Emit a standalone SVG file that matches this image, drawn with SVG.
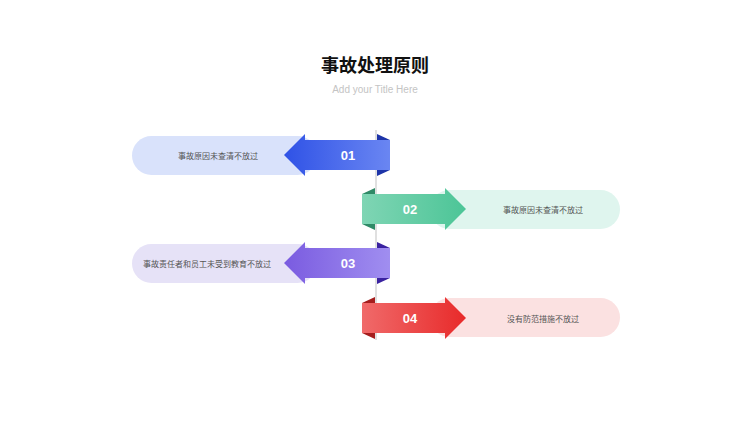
<svg xmlns="http://www.w3.org/2000/svg" width="750" height="422" viewBox="0 0 750 422">
<style>
.t{font-family:"Noto Sans CJK SC","Liberation Sans",sans-serif;font-size:8px;fill:#555;text-anchor:middle;dominant-baseline:central}
.n{font-family:"Liberation Sans",sans-serif;font-size:13px;font-weight:bold;fill:#fff;text-anchor:middle;dominant-baseline:central}
</style>
<defs>
<linearGradient id="gb" x1="0" x2="1"><stop offset="0" stop-color="#2f52e6"/><stop offset="1" stop-color="#6a86f2"/></linearGradient>
<linearGradient id="gg" x1="0" x2="1"><stop offset="0" stop-color="#7fd5b4"/><stop offset="1" stop-color="#4cc597"/></linearGradient>
<linearGradient id="gp" x1="0" x2="1"><stop offset="0" stop-color="#7a5be0"/><stop offset="1" stop-color="#a08ef0"/></linearGradient>
<linearGradient id="gr" x1="0" x2="1"><stop offset="0" stop-color="#f06a6a"/><stop offset="1" stop-color="#e82a2a"/></linearGradient>
</defs>
<rect width="750" height="422" fill="#fff"/>
<text x="375" y="72" font-family="Noto Sans CJK SC,sans-serif" font-size="18" font-weight="bold" text-anchor="middle" fill="#111">事故处理原则</text>
<text x="375" y="93" font-family="Liberation Sans,sans-serif" font-size="10" text-anchor="middle" fill="#c4c4c4">Add your Title Here</text>
<g id="connectors"><line x1="376" y1="130" x2="376" y2="340" stroke="#ccc" stroke-width="1.2"/></g>
<g id="n1">
<rect x="132" y="136" width="185" height="39" rx="19.5" fill="#d9e2fb"/>
<polygon points="284,155 305,134 305,140 390,140 390,170 305,170 305,176" fill="url(#gb)"/>
<polygon points="377,134 390,140 377,140" fill="#1d34a8"/><polygon points="377,176 390,170 377,170" fill="#1d34a8"/>
<text class="n" x="348" y="155">01</text><text class="t" x="218" y="155">事故原因未查清不放过</text>
</g>
<g id="n2">
<rect x="430" y="190" width="190" height="39" rx="19.5" fill="#dff5ee"/>
<polygon points="466,209 445,188 445,194 362,194 362,224 445,224 445,230" fill="url(#gg)"/>
<polygon points="375,188 362,194 375,194" fill="#2f8a67"/><polygon points="375,230 362,224 375,224" fill="#2f8a67"/>
<text class="n" x="410" y="209">02</text><text class="t" x="543" y="209">事故原因未查清不放过</text>
</g>
<g id="n3">
<rect x="132" y="244" width="185" height="39" rx="19.5" fill="#e6e2f7"/>
<polygon points="284,263 305,242 305,248 390,248 390,278 305,278 305,284" fill="url(#gp)"/>
<polygon points="377,242 390,248 377,248" fill="#3a22a0"/><polygon points="377,284 390,278 377,278" fill="#3a22a0"/>
<text class="n" x="348" y="263">03</text><text class="t" x="207" y="263">事故责任者和员工未受到教育不放过</text>
</g>
<g id="n4">
<rect x="430" y="298" width="190" height="39" rx="19.5" fill="#fbe1e1"/>
<polygon points="466,318 445,297 445,303 362,303 362,333 445,333 445,339" fill="url(#gr)"/>
<polygon points="375,297 362,303 375,303" fill="#a51e1e"/><polygon points="375,339 362,333 375,333" fill="#a51e1e"/>
<text class="n" x="410" y="318">04</text><text class="t" x="543" y="318">没有防范措施不放过</text>
</g>
</svg>
